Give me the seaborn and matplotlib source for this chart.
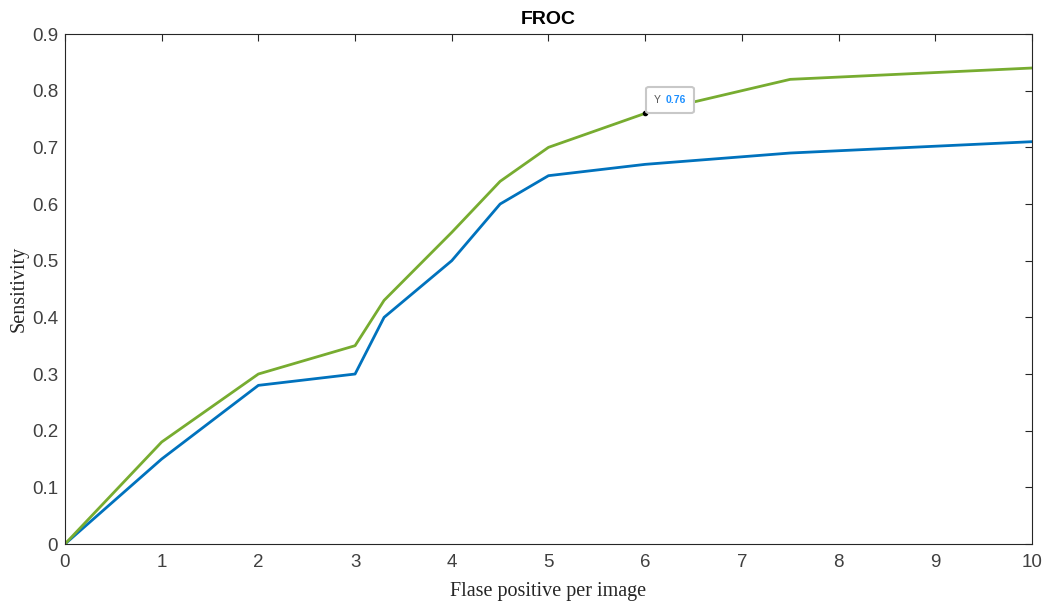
import numpy as np
import pandas as pd
import matplotlib
matplotlib.use('Agg')
import matplotlib.pyplot as plt
import seaborn as sns
from matplotlib.offsetbox import TextArea, HPacker, AnnotationBbox

# FROC curve values
fp_per_image = [0, 1, 2, 3, 3.3, 4, 4.5, 5, 6, 7.5, 10]
sens_blue = [0, 0.15, 0.28, 0.30, 0.40, 0.50, 0.60, 0.65, 0.67, 0.69, 0.71]
sens_green = [0, 0.18, 0.30, 0.35, 0.43, 0.55, 0.64, 0.70, 0.76, 0.82, 0.84]
tip_x, tip_y = 6, 0.76

df = pd.concat([
    pd.DataFrame({'fp': fp_per_image, 'sens': sens_blue, 'model': 'A'}),
    pd.DataFrame({'fp': fp_per_image, 'sens': sens_green, 'model': 'B'}),
])

sns.set_style('white')
plt.rcParams['font.family'] = ['Liberation Sans', 'DejaVu Sans']

fig = plt.figure(figsize=(10.46, 6.02), dpi=100)
ax = fig.add_axes([0.0621, 0.0963, 0.9245, 0.8472])

sns.lineplot(data=df, x='fp', y='sens', hue='model', sort=False,
             palette={'A': '#0072BD', 'B': '#77AC30'}, linewidth=2,
             legend=False, ax=ax)

ax.set_xlim(0, 10)
ax.set_ylim(0, 0.9)
ax.set_xticks(np.arange(0, 11, 1))
ax.set_yticks(np.round(np.arange(0, 0.91, 0.1), 1))
ax.set_yticklabels(['0'] + [f'{v:.1f}' for v in np.arange(0.1, 0.91, 0.1)])
ax.tick_params(direction='in', length=5, width=0.8, colors='#262626',
               labelsize=13.5, top=True, right=True)
ax.tick_params(axis='x', pad=7)
ax.tick_params(axis='y', pad=5)
ax.tick_params(axis='both', labelcolor='#404040')
for s in ax.spines.values():
    s.set_color('#262626')
    s.set_linewidth(0.8)

ax.set_xlabel('Flase positive per image', family='Liberation Serif',
              fontsize=14.5, color='#262626', labelpad=8)
ax.set_ylabel('Sensitivity', family='Liberation Serif', fontsize=14.5,
              color='#262626', labelpad=2)
ax.set_title('FROC', fontsize=14, fontweight='bold', color='black', pad=7)

# data tip
ax.plot([tip_x], [tip_y], marker='o', ms=3, color='black')
tip = HPacker(children=[
    TextArea('Y', textprops=dict(color='#555555', fontsize=7.5)),
    TextArea('0.76', textprops=dict(color='#1E90FF', fontsize=7.5,
                                     fontweight='bold')),
], align='baseline', pad=5, sep=3)
ab = AnnotationBbox(tip, (tip_x, tip_y), xybox=(1.5, 1),
                    xycoords='data', boxcoords='offset points',
                    box_alignment=(0, 0), pad=0.1,
                    bboxprops=dict(boxstyle='round,pad=0.1,rounding_size=0.2',
                                   fc='white', ec='#C8C8C8', lw=1.5))
ax.add_artist(ab)

fig.savefig('out.png', dpi=100)
